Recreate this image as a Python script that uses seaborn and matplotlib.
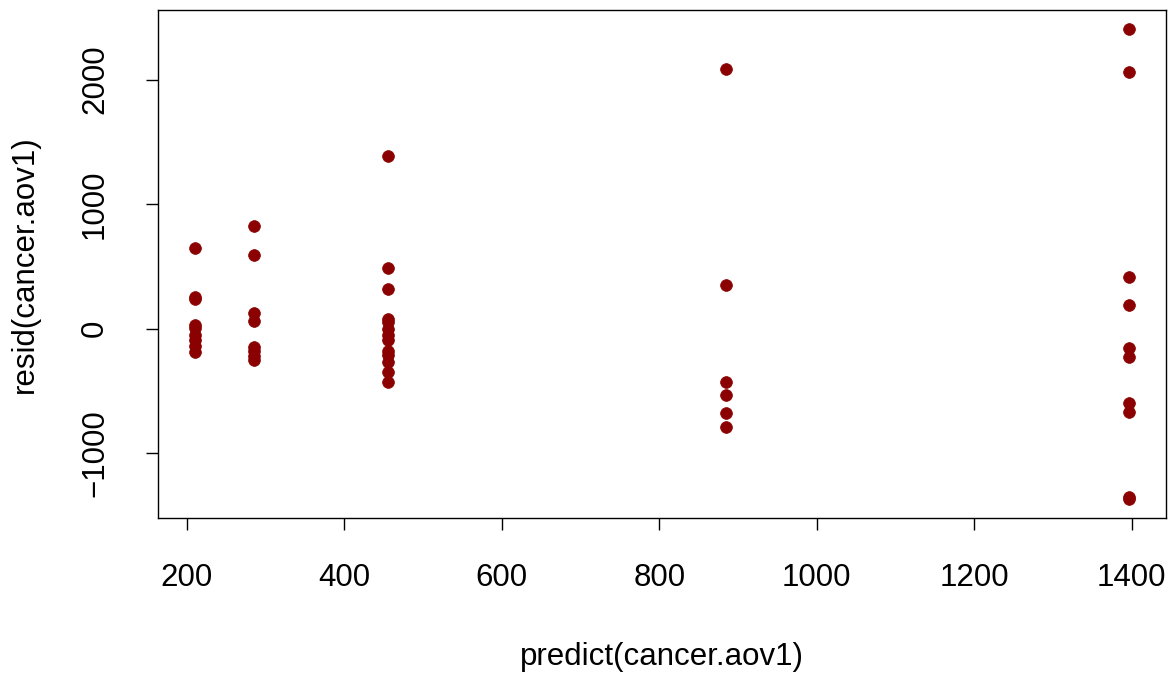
import numpy as np
import pandas as pd
import matplotlib
matplotlib.use("Agg")
import matplotlib.pyplot as plt
import seaborn as sns

# fitted values (group means) and residuals
fit_211 = [645, 255, 235, 30, 5, -50, -90, -140, -185]
fit_285 = [825, 590, 125, 60, -150, -180, -220, -255]
fit_456 = [1385, 485, 320, 75, 50, 0, -50, -90, -180, -210, -270, -350, -430]
fit_885 = [2085, 350, -425, -530, -680, -790]
fit_1396 = [2408, 2064, 416, 192, -152, -224, -600, -672, -1350, -1370]

groups = [211, 285, 456, 885, 1396]
resids = [fit_211, fit_285, fit_456, fit_885, fit_1396]

x_ticks = [200, 400, 600, 800, 1000, 1200, 1400]
y_ticks = [-1000, 0, 1000, 2000]

rows = []
for g, rs in zip(groups, resids):
    for r in rs:
        rows.append((g, r))
df = pd.DataFrame(rows, columns=["predict", "resid"])

sns.set_style("white")
plt.rcParams['font.family'] = ['Liberation Sans', 'DejaVu Sans']
plt.rcParams['text.color'] = 'black'
plt.rcParams['axes.labelcolor'] = 'black'
plt.rcParams['xtick.color'] = 'black'
plt.rcParams['ytick.color'] = 'black'

W, H = 1176, 677
fig = plt.figure(figsize=(W/100, H/100), dpi=100)
ax = fig.add_axes([158/W, 1 - 518/H, (1166-158)/W, (518-10)/H])
sns.scatterplot(data=df, x="predict", y="resid", ax=ax, color="#8B0000",
                s=72, edgecolor="#8B0000", linewidth=0.5, legend=False)

xmin, xmax = df.predict.min(), df.predict.max()
ymin, ymax = df.resid.min(), df.resid.max()
ax.set_xlim(xmin - 0.04*(xmax-xmin), xmax + 0.04*(xmax-xmin))
ax.set_ylim(ymin - 0.04*(ymax-ymin), ymax + 0.04*(ymax-ymin))

fs = 22.5
ax.set_xticks(x_ticks)
ax.set_xticklabels([str(v) for v in x_ticks], fontsize=fs)
ax.set_yticks(y_ticks)
ax.set_yticklabels([str(v).replace('-', '\u2212') for v in y_ticks],
                   rotation=90, va='center', fontsize=fs)

for s in ax.spines.values():
    s.set_visible(True)
    s.set_color('black')
    s.set_linewidth(1.0)
ax.tick_params(axis='both', which='major', direction='out', length=8.5, width=1,
               color='black', bottom=True, left=True)
ax.tick_params(axis='x', pad=24)
ax.tick_params(axis='y', pad=26)

ax.set_xlabel("predict(cancer.aov1)", fontsize=fs)
ax.set_ylabel("resid(cancer.aov1)", fontsize=fs)
ax.xaxis.set_label_coords(((158+1166)/2)/W, 1 - 657/H, transform=fig.transFigure)
ax.xaxis.label.set_verticalalignment('center')
ax.yaxis.set_label_coords(25/W, 1 - ((10+518)/2)/H, transform=fig.transFigure)
ax.yaxis.label.set_verticalalignment('center')

fig.savefig("out.png", dpi=100)
